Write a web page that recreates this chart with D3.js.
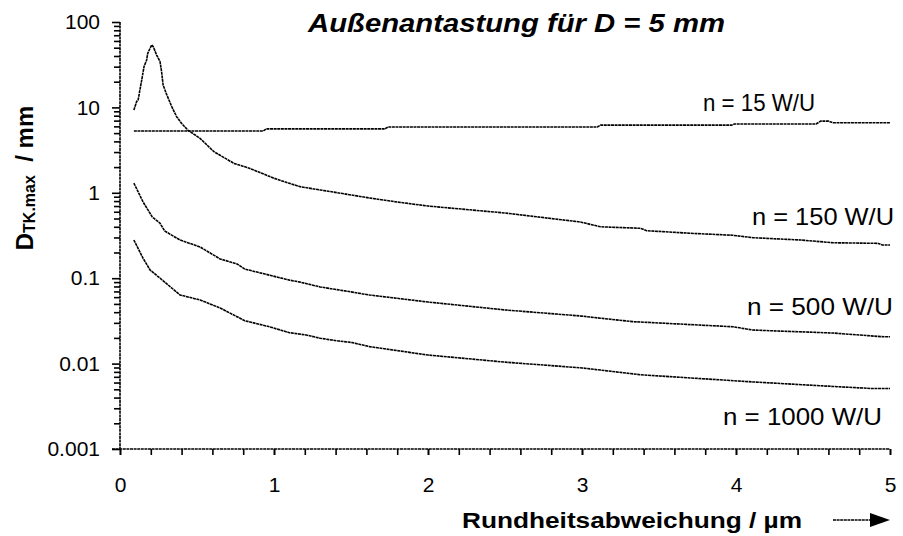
<!DOCTYPE html>
<html>
<head>
<meta charset="utf-8">
<script src="https://cdn.jsdelivr.net/npm/d3@7"></script>
<style>
  body { margin: 0; background: #fff; }
  svg { font-family: "Liberation Sans", Arial, sans-serif; }
</style>
</head>
<body>
<svg id="chart" width="903" height="536"></svg>
<script>
// values
var x15 = [0.09, 0.93, 0.95, 1.72, 1.74, 3.1, 3.12, 3.97, 3.99, 4.52, 4.55, 4.6, 4.63, 5.0]
var v15 = [5.3, 5.3, 5.6, 5.6, 5.9, 5.9, 6.2, 6.2, 6.4, 6.4, 6.9, 6.9, 6.6, 6.6]

var x150 = [0.09, 0.108, 0.118, 0.141, 0.156, 0.173, 0.18, 0.195, 0.206, 0.216, 0.238, 0.26, 0.27, 0.28, 0.30,
    0.336, 0.368, 0.40, 0.44, 0.52, 0.61, 0.74, 0.84, 1.0, 1.10, 1.17, 1.30, 1.62, 1.8, 2.0, 2.5, 2.99, 3.12,
    3.38, 3.42, 3.70, 3.98, 4.11, 4.42, 4.63, 4.92, 4.95, 5.0]
var v150 = [9.3, 11.7, 12.3, 20.9, 30, 35.9, 43, 49, 53.9, 51.4, 41, 34.3, 26.2, 18.3, 14.6,
    10.2, 7.78, 6.5, 5.43, 4.34, 3.03, 2.21, 1.94, 1.48, 1.29, 1.18, 1.08, 0.87, 0.78, 0.70, 0.58, 0.455, 0.40,
    0.384, 0.36, 0.336, 0.318, 0.298, 0.28, 0.26, 0.256, 0.245, 0.245]

var x500 = [0.09, 0.15, 0.21, 0.26, 0.29, 0.39, 0.52, 0.65, 0.76, 0.81, 1.10, 1.17, 1.30, 1.46, 1.62,
    2.0, 2.5, 3.0, 3.12, 3.33, 3.98, 4.11, 4.63, 4.94, 5.0]
var v500 = [1.30, 0.78, 0.52, 0.44, 0.357, 0.28, 0.232, 0.168, 0.147, 0.128, 0.095, 0.090, 0.079, 0.071, 0.0636,
    0.0526, 0.0425, 0.036, 0.034, 0.031, 0.027, 0.0247, 0.0228, 0.0207, 0.0206]

var x1000 = [0.09, 0.15, 0.195, 0.26, 0.39, 0.52, 0.65, 0.76, 0.81, 0.97, 1.10, 1.21, 1.30, 1.41, 1.51, 1.62,
    2.0, 2.5, 3.0, 3.12, 3.38, 4.11, 4.63, 4.89, 5.0]
var v1000 = [0.28, 0.171, 0.125, 0.10, 0.0636, 0.0556, 0.0448, 0.0354, 0.0318, 0.027, 0.023, 0.0216, 0.0198,
    0.0185, 0.0176, 0.0158, 0.0126, 0.0104, 0.0089, 0.0084, 0.0074, 0.0061, 0.0054, 0.0051, 0.0051]

var seriesNames = ["n = 15 W/U", "n = 150 W/U", "n = 500 W/U", "n = 1000 W/U"]
var yTicks = [0.001, 0.01, 0.1, 1, 10, 100]
var yTickLabels = ["0.001", "0.01", "0.1", "1", "10", "100"]
var xTicks = [0, 1, 2, 3, 4, 5]

var svg = d3.select('#chart')
var dash = "3,0.6"

var x = d3.scaleLinear().domain([0, 5]).range([120, 890])
var y = d3.scaleLog().domain([0.001, 100]).range([449, 22])

// minor y ticks 2..9 per decade
var yMinor = []
yTicks.slice(0, -1).forEach(function (t) {
    for (var k = 2; k <= 9; k++) yMinor.push(t * k)
})
var xMinor = d3.range(0, 26).map(function (i) { return i * 0.2 })

svg.append("g")
    .attr("transform", "translate(120,0)")
    .call(d3.axisLeft(y).tickValues(yMinor).tickSize(6).tickSizeOuter(0).tickFormat(""))
    .call(function (g) { g.select(".domain").remove() })

svg.append("g")
    .attr("transform", "translate(120,0)")
    .call(d3.axisLeft(y).tickValues(yTicks).tickSize(8).tickSizeOuter(0).tickPadding(12)
        .tickFormat(function (d, i) { return yTickLabels[i] }))
    .call(function (g) {
        g.select(".domain").remove()
        g.selectAll("text").attr("font-size", 21).attr("fill", "#000").style("font-family", "Liberation Sans, Arial")
    })

svg.append("g")
    .attr("transform", "translate(0,449)")
    .call(d3.axisBottom(x).tickValues(xMinor).tickSize(6).tickSizeOuter(0).tickFormat(""))
    .call(function (g) { g.select(".domain").remove() })

svg.append("g")
    .attr("transform", "translate(0,449)")
    .call(d3.axisBottom(x).tickValues(xTicks).tickSize(6).tickSizeOuter(0).tickPadding(22)
        .tickFormat(d3.format("d")))
    .call(function (g) {
        g.select(".domain").remove()
        g.selectAll("text").attr("font-size", 21).attr("fill", "#000").style("font-family", "Liberation Sans, Arial")
    })

svg.selectAll(".tick line").attr("stroke", "#000").attr("stroke-width", 1.6)

// axis lines
svg.append("line")
    .attr("x1", x(0)).attr("x2", x(0)).attr("y1", y(100)).attr("y2", y(0.001))
    .attr("stroke", "#000").attr("stroke-width", 1.6).attr("stroke-dasharray", dash)
svg.append("line")
    .attr("x1", x(0) - 8).attr("x2", x(5)).attr("y1", y(0.001)).attr("y2", y(0.001))
    .attr("stroke", "#000").attr("stroke-width", 1.6).attr("stroke-dasharray", dash)

// curves
var line = d3.line()
    .x(function (d) { return x(d[0]) })
    .y(function (d) { return y(d[1]) })

var series = [[x15, v15], [x150, v150], [x500, v500], [x1000, v1000]]
series.forEach(function (s) {
    svg.append("path")
        .datum(d3.zip(s[0], s[1]))
        .attr("d", line)
        .attr("fill", "none")
        .attr("stroke", "#000")
        .attr("stroke-width", 1.6)
        .attr("stroke-dasharray", dash)
})

// series labels
var labelPos = [[815, 111, 112], [894, 225, 142], [893, 315, 146], [882, 425, 159]]
seriesNames.forEach(function (n, i) {
    svg.append("text")
        .attr("x", labelPos[i][0] - labelPos[i][2])
        .attr("y", labelPos[i][1])
        .attr("font-size", 24)
        .attr("textLength", labelPos[i][2])
        .attr("lengthAdjust", "spacingAndGlyphs")
        .text(n)
})

// title
svg.append("text")
    .attr("x", 308)
    .attr("y", 32)
    .attr("font-size", 25)
    .attr("font-weight", "bold")
    .attr("font-style", "italic")
    .attr("textLength", 417)
    .attr("lengthAdjust", "spacingAndGlyphs")
    .text("Außenantastung für D = 5 mm")

// x axis title + arrow
svg.append("text")
    .attr("x", 462)
    .attr("y", 528)
    .attr("font-size", 22)
    .attr("font-weight", "bold")
    .attr("textLength", 340)
    .attr("lengthAdjust", "spacingAndGlyphs")
    .text("Rundheitsabweichung / µm")

svg.append("line")
    .attr("x1", 833).attr("x2", 872).attr("y1", 520).attr("y2", 520)
    .attr("stroke", "#000").attr("stroke-width", 1.5).attr("stroke-dasharray", dash)
svg.append("path")
    .attr("d", "M870,513 L890,520 L870,527 Z")
    .attr("fill", "#000")

// y axis title
var yt = svg.append("text")
    .attr("transform", "translate(33,178) rotate(-90)")
    .attr("text-anchor", "middle")
    .attr("font-size", 24)
    .attr("font-weight", "bold")
yt.append("tspan").text("D")
yt.append("tspan").attr("font-size", 16).attr("dy", 2).text("TK.max")
yt.append("tspan").attr("dy", -2).text("\u00a0\u00a0/ mm")
</script>
</body>
</html>
